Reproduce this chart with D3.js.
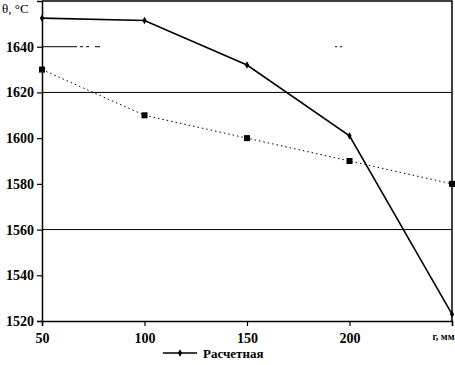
<!DOCTYPE html>
<html>
<head>
<meta charset="utf-8">
<script src="https://cdn.jsdelivr.net/npm/d3@7"></script>
<style>
  body { margin: 0; background: #fff; }
  svg text { font-family: "Liberation Serif", "DejaVu Serif", "Times New Roman", Times, serif; }
</style>
</head>
<body>
<svg id="chart" width="455" height="365"></svg>
<script>
const radii = [50, 100, 150, 200, 250];
const calcValues = [1652.5, 1651.5, 1632, 1601, 1523];   // Расчетная
const measValues = [1630, 1610, 1600, 1590, 1580];       // dotted series
const yTicks = [1520, 1540, 1560, 1580, 1600, 1620, 1640];
const xTickLabels = ['50', '100', '150', '200', 'г, мм'];
const gridValues = [1640, 1620, 1560];

const serif = '"Liberation Serif", "DejaVu Serif", "Times New Roman", Times, serif';
const margin = {top: 1, right: 3, bottom: 44, left: 42};
const width = 455, height = 365;

const svg = d3.select('#chart');

const x = d3.scaleLinear([50, 250], [margin.left, width - margin.right]);
const y = d3.scaleLinear([1520, 1660], [height - margin.bottom, margin.top]);

// grid (1640 line is broken up in the scan)
svg.append('g')
  .selectAll('line')
  .data(gridValues)
  .join('line')
    .attr('x1', x(50)).attr('x2', x(250))
    .attr('y1', d => y(d)).attr('y2', d => y(d))
    .attr('stroke', '#000')
    .attr('stroke-width', 1)
    .attr('stroke-dasharray', d => d === 1640 ? '35,3,3,3,3,6,5,235,2,3,2,1000' : null);

// frame (top and right)
svg.append('path')
  .attr('d', `M${x(50)},${y(1660)}H${x(250)}V${y(1520)}`)
  .attr('fill', 'none')
  .attr('stroke', '#000')
  .attr('stroke-width', 1.5);

// axes
const xAxis = svg.append('g')
  .attr('transform', `translate(0,${y(1520)})`)
  .call(d3.axisBottom(x).tickValues(radii).tickSize(5).tickFormat((d, i) => xTickLabels[i]));
const yAxis = svg.append('g')
  .attr('transform', `translate(${x(50)},0)`)
  .call(d3.axisLeft(y).tickValues(yTicks).tickSize(5).tickFormat(d3.format('d')));

[xAxis, yAxis].forEach(g => {
  g.attr('font-family', serif);
  g.select('.domain').attr('stroke-width', 1.5);
  g.selectAll('.tick line').attr('stroke-width', 1.2);
  g.selectAll('text')
    .attr('fill', '#000')
    .style('font-family', serif)
    .style('font-weight', 'bold')
    .style('font-size', '14px');
});
xAxis.selectAll('text').attr('y', 12);
xAxis.selectAll('.tick').filter(d => d === 250).select('text')
  .attr('text-anchor', 'end').attr('dx', 2)
  .style('font-size', '10px');
yAxis.selectAll('text').attr('x', -8);

// y label
svg.append('text')
  .attr('x', 2).attr('y', 13)
  .style('font-family', serif)
  .style('font-size', '13px')
  .text('θ, °C');

const line = d3.line().x((d, i) => x(radii[i])).y(d => y(d));

// dotted series
svg.append('path')
  .datum(measValues)
  .attr('d', line)
  .attr('fill', 'none')
  .attr('stroke', '#000')
  .attr('stroke-width', 1)
  .attr('stroke-dasharray', '1.5,3');
svg.append('g')
  .selectAll('rect')
  .data(measValues)
  .join('rect')
    .attr('x', (d, i) => x(radii[i]) - 3)
    .attr('y', d => y(d) - 3)
    .attr('width', 6).attr('height', 6)
    .attr('fill', '#000');

// Расчетная
svg.append('path')
  .datum(calcValues)
  .attr('d', line)
  .attr('fill', 'none')
  .attr('stroke', '#000')
  .attr('stroke-width', 1.6);
const diamond = d3.symbol(d3.symbolDiamond, 16);
svg.append('g')
  .selectAll('path')
  .data(calcValues)
  .join('path')
    .attr('d', diamond)
    .attr('transform', (d, i) => `translate(${x(radii[i])},${y(d)})`)
    .attr('fill', '#000');

// legend
const lg = svg.append('g').attr('transform', 'translate(163,353)');
lg.append('line').attr('x1', 0).attr('x2', 34).attr('stroke', '#000').attr('stroke-width', 1.6);
lg.append('path').attr('d', diamond).attr('transform', 'translate(17,0)').attr('fill', '#000');
lg.append('text')
  .attr('x', 40).attr('y', 4.5)
  .style('font-family', serif)
  .style('font-weight', 'bold')
  .style('font-size', '13px')
  .text('Расчетная');
</script>
</body>
</html>
